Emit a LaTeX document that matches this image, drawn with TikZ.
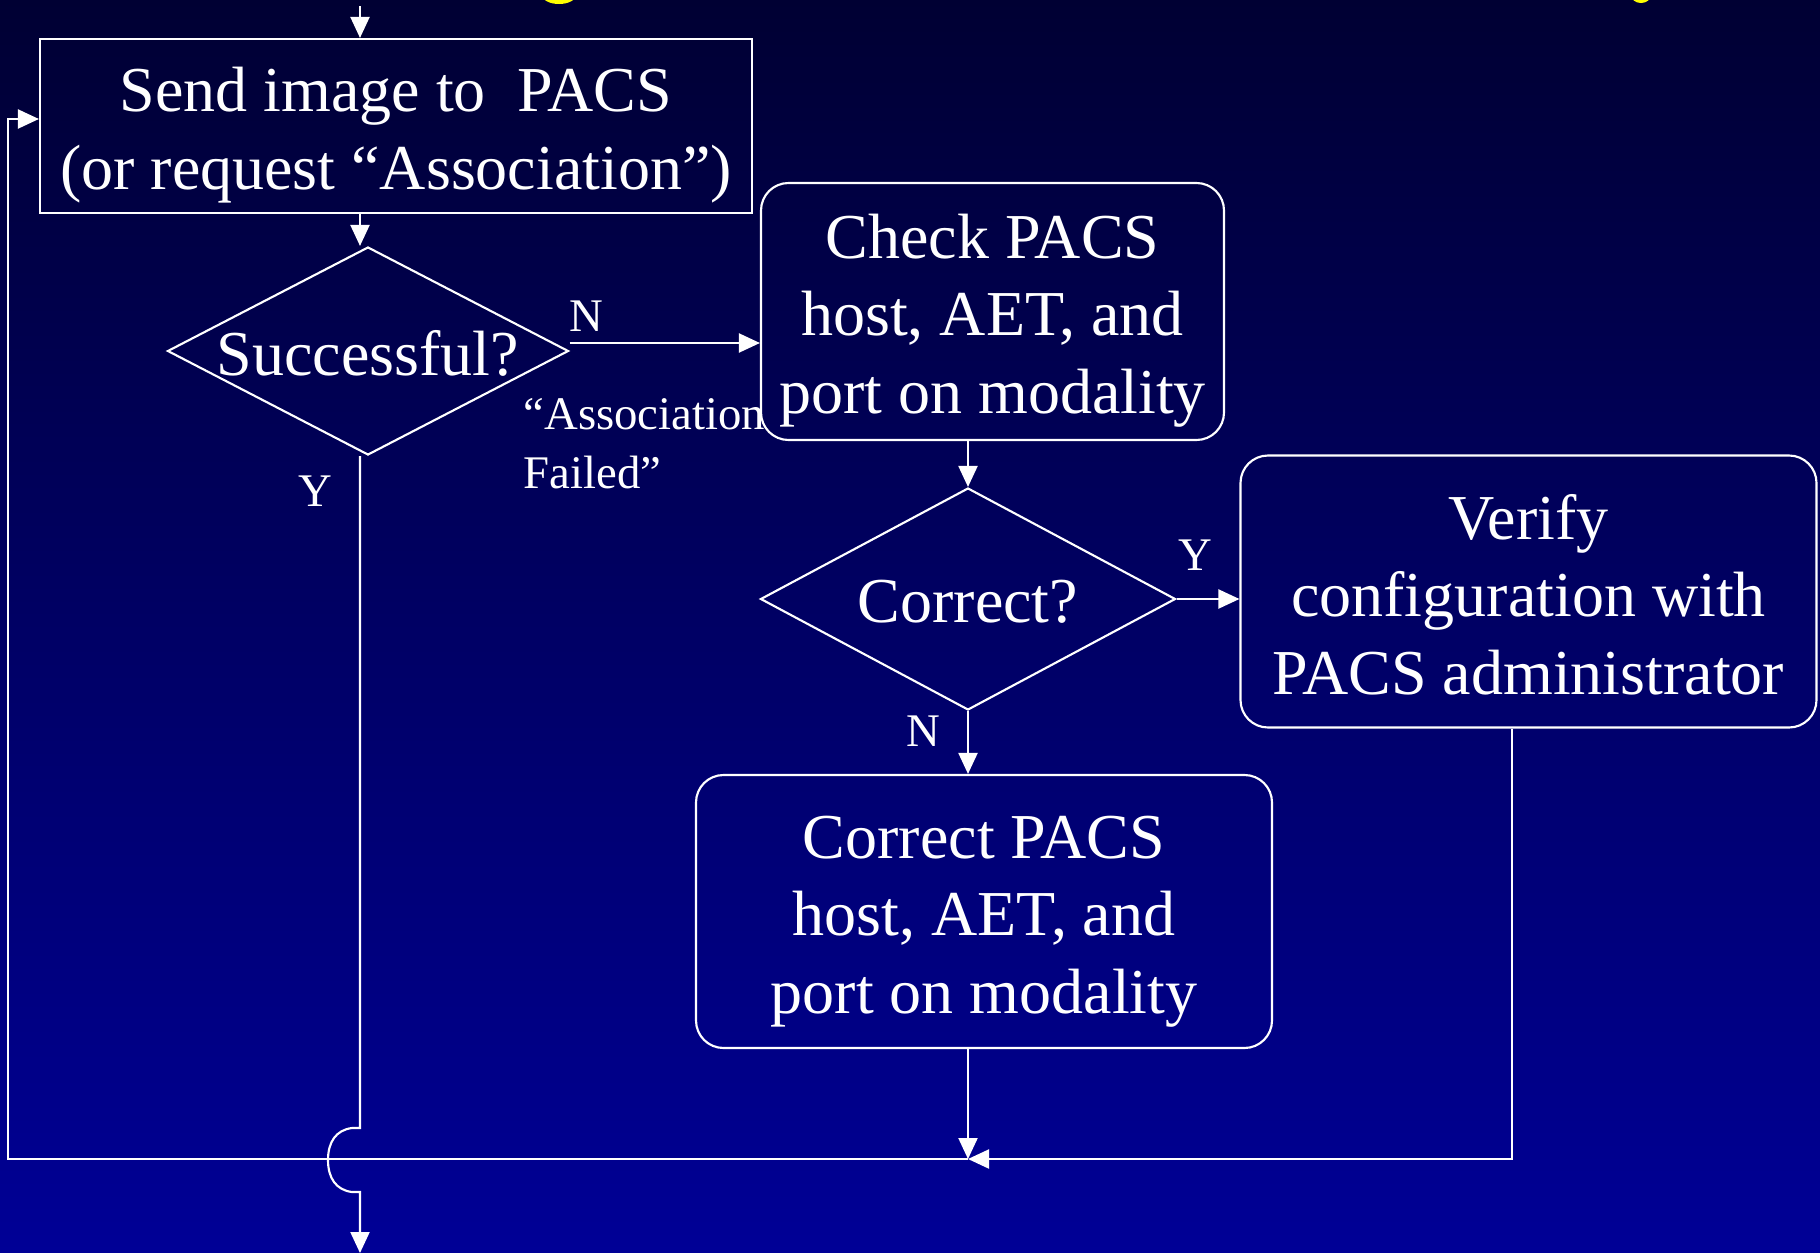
\documentclass[tikz,border=0pt]{standalone}
\usepackage{fontspec}
\setmainfont{Liberation Serif}
\usetikzlibrary{arrows.meta,shapes.geometric}
\definecolor{bgtop}{RGB}{0,0,51}
\definecolor{bgbot}{RGB}{0,0,150}
\definecolor{titleyellow}{RGB}{255,255,0}
\newcommand\mainfs{\fontsize{25.6pt}{31pt}\selectfont}
\newcommand\lblfs{\fontsize{18.7pt}{23.6pt}\selectfont}

\begin{document}
\begin{tikzpicture}[x=0.4pt,y=-0.4pt,
  line/.style={draw=white,line width=0.85pt},
  arr/.style={line,-{Triangle[length=8.4pt,width=7.6pt]}},
  plainbox/.style={line,rectangle,inner sep=0pt},
  roundbox/.style={plainbox,rounded corners=11pt},
  boxtext/.style={align=center,text=white,font=\mainfs,inner sep=0pt},
  decision/.style={line,diamond,inner sep=0pt},
  dectext/.style={text=white,font=\mainfs,inner sep=0pt},
  lbl/.style={text=white,font=\lblfs,inner sep=0pt},
]
% background
\fill[top color=bgtop,bottom color=bgbot] (0,0) rectangle (1820,1253);
\useasboundingbox (0,0) rectangle (1820,1253);

% descenders of the heading line above
\begin{scope}
  \clip (0,0) rectangle (1820,1253);
  \fill[titleyellow] (559,-5) ellipse [x radius=6.8pt,y radius=3.6pt];
  \fill[titleyellow] (1641,-5) ellipse [x radius=4pt,y radius=3.2pt];
\end{scope}

% steps and decisions
\node[plainbox,minimum width={712*0.4pt},minimum height={174*0.4pt}] (send) at (396,126) {};
\node[boxtext] (sendtxt) at (396,135)
  {Send image to\ \ PACS\\(or request “Association”)};
\node[decision,minimum width={401*0.4pt},minimum height={208*0.4pt}] (succ) at (368,351) {};
\node[dectext] (succtxt) at (368,353) {Successful?};
\node[roundbox,minimum width={463*0.4pt},minimum height={257*0.4pt}] (check) at (992.5,311.5) {};
\node[boxtext] (checktxt) at (992.5,320.5) {Check PACS\\host, AET, and\\port on modality};
\node[decision,minimum width={415*0.4pt},minimum height={222*0.4pt}] (corr) at (968,599) {};
\node[dectext] (corrtxt) at (968,602) {Correct?};
\node[roundbox,minimum width={576*0.4pt},minimum height={272*0.4pt}] (verify) at (1528.5,591.5) {};
\node[boxtext] (verifytxt) at (1528.5,594.5) {Verify\\configuration with\\PACS administrator};
\node[roundbox,minimum width={576*0.4pt},minimum height={273*0.4pt}] (fix) at (984,911.5) {};
\node[boxtext] (fixtxt) at (984,921.5) {Correct PACS\\host, AET, and\\port on modality};

% routing points
\coordinate (inlet) at (360,6);
\coordinate (ycol) at (360,0);
\coordinate (nrow) at (0,343);
\coordinate (junc) at (968,1159);
\coordinate (loopbot) at (8,1159);
\coordinate (looptop) at (8,119);
\coordinate (vcol) at (1512,0);
\coordinate (jumptop) at (360,1128);
\coordinate (jumpbot) at (360,1192);
\coordinate (outlet) at (360,1253);

% connectors
\draw[arr] (inlet) -- (inlet |- send.north);
\draw[arr] (send.south -| ycol) -- (succ.north -| ycol);
\draw[arr] (succ.east |- nrow) -- (check.west |- nrow);
\draw[arr] (check.south -| corr.north) -- (corr.north);
\draw[arr] (corr.east) -- (verify.west |- corr.east);
\draw[arr] (corr.south) -- (fix.north -| corr.south);
\draw[arr] (fix.south -| junc) -- (junc);
\draw[arr] (verify.south -| vcol) |- (junc);
\draw[arr] (junc) -- (loopbot) -- (looptop) -- (send.west |- looptop);
\draw[arr] (succ.south -| ycol) -- (jumptop) -- (352,1128)
  .. controls (336,1130) and (328,1142) .. (328,1160)
  .. controls (328,1178) and (336,1190) .. (352,1192)
  -- (jumpbot) -- (outlet);

% branch labels
\node[lbl] (nlab1) at (586,316) {N};
\node[lbl,align=left,anchor=west] (failmsg) at (523,444) {“Association\\Failed”};
\node[lbl] (ylab1) at (315,491) {Y};
\node[lbl] (ylab2) at (1195,555) {Y};
\node[lbl] (nlab2) at (923,731) {N};
\end{tikzpicture}
\end{document}
